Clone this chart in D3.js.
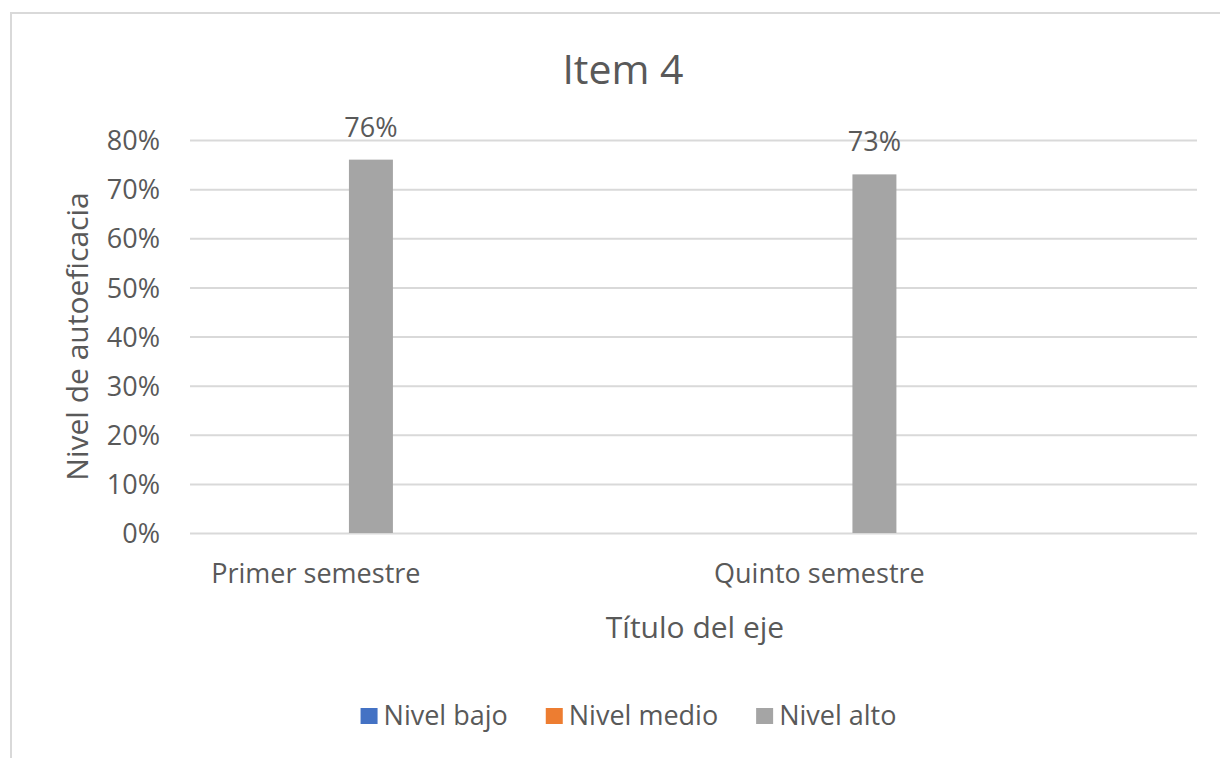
<!DOCTYPE html>
<html>
<head>
<meta charset="utf-8">
<script src="https://cdn.jsdelivr.net/npm/d3@7"></script>
<style>
  html, body { margin: 0; padding: 0; background: #fff; }
  svg { display: block; }
  text { font-family: "Open Sans", "Noto Sans", sans-serif; fill: #595959; }
</style>
</head>
<body>
<svg id="chart" width="1220" height="758"></svg>
<script>
const categories = ["Primer semestre", "Quinto semestre"];
const seriesNames = ["Nivel bajo", "Nivel medio", "Nivel alto"];
const nivelBajo = [null, null];
const nivelMedio = [null, null];
const nivelAlto = [0.76, 0.73];
const yTicks = [0, 0.1, 0.2, 0.3, 0.4, 0.5, 0.6, 0.7, 0.8];
const seriesColors = ["#4472c4", "#ed7d31", "#a5a5a5"];
const chartTitle = "Item 4";
const xTitle = "Título del eje";
const yTitle = "Nivel de autoeficacia";

const seriesValues = [nivelBajo, nivelMedio, nivelAlto];

const svg = d3.select("#chart");

// outer border
svg.append("rect")
  .attr("x", 11).attr("y", 13).attr("width", 1240).attr("height", 780)
  .attr("fill", "none").attr("stroke", "#d9d9d9").attr("stroke-width", 2);

const plotL = 190, plotR = 1197, plotT = 140, plotB = 533;

const x0 = d3.scaleBand().domain(categories).range([plotL, plotR]).padding(0);
const bw = x0.bandwidth();
const x1 = d3.scaleBand().domain(seriesNames).range([bw * 0.141, bw * 0.403]).padding(0);
const y = d3.scaleLinear().domain([0, 0.8]).range([plotB, plotT]);
const color = d3.scaleOrdinal().domain(seriesNames).range(seriesColors);

// gridlines + y tick labels
const yAxis = svg.append("g")
  .attr("transform", `translate(${plotL},0)`)
  .call(d3.axisLeft(y).tickValues(yTicks).tickFormat(d3.format(".0%"))
        .tickSize(-(plotR - plotL)).tickPadding(30));
yAxis.select(".domain").remove();
yAxis.selectAll(".tick line").attr("stroke", "#d9d9d9").attr("stroke-width", 2);
yAxis.selectAll(".tick text")
  .attr("font-size", 27).attr("fill", "#595959").attr("dy", "0.36em")
  .style("font-family", '"Open Sans", sans-serif');

// bars
const barData = [];
seriesNames.forEach((s, si) => {
  categories.forEach((c, ci) => {
    const v = seriesValues[si][ci];
    if (v !== null && v !== undefined) barData.push({ s, c, v });
  });
});

svg.append("g").selectAll("rect").data(barData).join("rect")
  .attr("x", d => x0(d.c) + x1(d.s))
  .attr("width", x1.bandwidth())
  .attr("y", d => y(d.v))
  .attr("height", d => y(0) - y(d.v))
  .attr("fill", d => color(d.s));

// data labels
svg.append("g").selectAll("text").data(barData).join("text")
  .attr("x", d => x0(d.c) + x1(d.s) + x1.bandwidth() / 2)
  .attr("y", d => y(d.v) - 23)
  .attr("text-anchor", "middle")
  .attr("font-size", 27)
  .text(d => d3.format(".0%")(d.v));

// x category labels
svg.append("g").selectAll("text").data(categories).join("text")
  .attr("x", d => x0(d) + bw * 0.25)
  .attr("y", 583)
  .attr("text-anchor", "middle")
  .attr("font-size", 27)
  .text(d => d);

// title
svg.append("text")
  .attr("x", 623).attr("y", 84)
  .attr("text-anchor", "middle")
  .attr("font-size", 41)
  .text(chartTitle);

// x axis title
svg.append("text")
  .attr("x", 695).attr("y", 638)
  .attr("text-anchor", "middle")
  .attr("font-size", 30)
  .text(xTitle);

// y axis title
svg.append("text")
  .attr("transform", `translate(88,${(plotT + plotB) / 2}) rotate(-90)`)
  .attr("text-anchor", "middle")
  .attr("font-size", 30)
  .text(yTitle);

// legend
const legend = svg.append("g");
const items = legend.selectAll("g").data(seriesNames).join("g");
items.append("rect")
  .attr("width", 17).attr("height", 16)
  .attr("y", 708)
  .attr("fill", d => color(d));
items.append("text")
  .attr("x", 23).attr("y", 725)
  .attr("font-size", 27)
  .text(d => d);
const widths = [];
items.each(function(d) {
  const w = 23 + d3.select(this).select("text").node().getComputedTextLength();
  widths.push(w);
});
const gap = 38;
const total = d3.sum(widths) + gap * (widths.length - 1);
let start = 628.5 - total / 2;
items.attr("transform", (d, i) => {
  const t = `translate(${start},0)`;
  start += widths[i] + gap;
  return t;
});
</script>
</body>
</html>
